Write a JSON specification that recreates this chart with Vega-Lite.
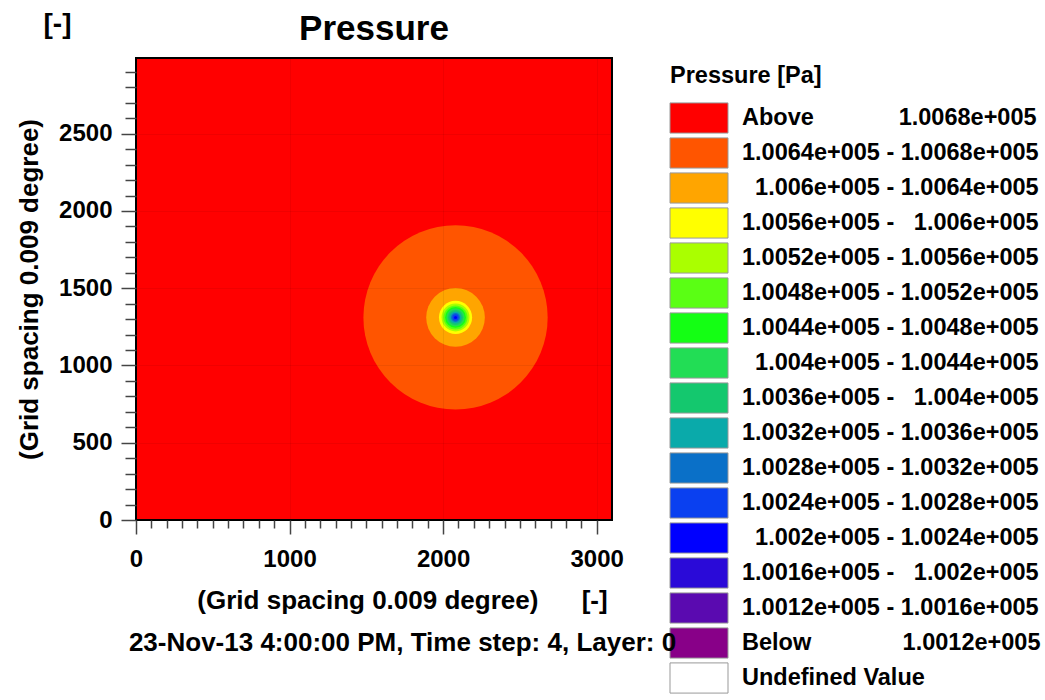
{
  "$schema": "https://vega.github.io/schema/vega-lite/v6.json",
  "autosize": {"type": "none"},
  "padding": {"left": 136, "top": 58, "right": 433, "bottom": 180},
  "width": 476,
  "height": 462,
  "background": "white",
  "title": {"text": "Pressure", "fontSize": 35, "font": "Liberation Sans", "fontWeight": "bold", "color": "black", "anchor": "middle", "offset": -37},
  "data": {"values": [
    {"cls": "1.0064e+005 - 1.0068e+005", "cx": 2081, "cy": 1311, "r": 600},
    {"cls": "1.006e+005 - 1.0064e+005", "cx": 2081, "cy": 1311, "r": 191},
    {"cls": "1.0056e+005 - 1.006e+005", "cx": 2081, "cy": 1311, "r": 108},
    {"cls": "1.0052e+005 - 1.0056e+005", "cx": 2081, "cy": 1311, "r": 91},
    {"cls": "1.0048e+005 - 1.0052e+005", "cx": 2081, "cy": 1311, "r": 78},
    {"cls": "1.0044e+005 - 1.0048e+005", "cx": 2081, "cy": 1311, "r": 68},
    {"cls": "1.004e+005 - 1.0044e+005", "cx": 2081, "cy": 1311, "r": 59},
    {"cls": "1.0036e+005 - 1.004e+005", "cx": 2081, "cy": 1311, "r": 49},
    {"cls": "1.0032e+005 - 1.0036e+005", "cx": 2081, "cy": 1311, "r": 39},
    {"cls": "1.0028e+005 - 1.0032e+005", "cx": 2081, "cy": 1311, "r": 29},
    {"cls": "1.0024e+005 - 1.0028e+005", "cx": 2081, "cy": 1311, "r": 20},
    {"cls": "1.002e+005 - 1.0024e+005", "cx": 2081, "cy": 1311, "r": 10}
  ]},
  "layer": [
    {
      "mark": {"type": "point", "shape": "circle", "filled": true, "opacity": 1, "strokeWidth": 0},
      "encoding": {
        "x": {"field": "cx", "type": "quantitative",
          "scale": {"domain": [0, 3100], "nice": false, "zero": false},
          "axis": {
            "orient": "bottom",
            "values": [0,100,200,300,400,500,600,700,800,900,1000,1100,1200,1300,1400,1500,1600,1700,1800,1900,2000,2100,2200,2300,2400,2500,2600,2700,2800,2900,3000],
            "format": "d",
            "labelExpr": "datum.value % 1000 == 0 ? datum.label : ''",
            "labelOverlap": false, "labelFlush": false,
            "labelFontSize": 24, "labelFont": "Liberation Sans", "labelFontWeight": "bold", "labelColor": "black",
            "labelPadding": 13,
            "tickSize": {"condition": {"test": "datum.value % 1000 != 0", "value": 8}, "value": 14},
            "tickColor": "#444", "tickWidth": 1.5,
            "domain": false,
            "grid": true, "gridColor": "#000000",
            "gridOpacity": {"condition": {"test": "datum.value % 1000 == 0", "value": 0.06}, "value": 0},
            "zindex": 1,
            "title": ["(Grid spacing 0.009 degree)\u00a0\u00a0\u00a0\u00a0\u00a0\u00a0[-]", "23-Nov-13 4:00:00 PM, Time step: 4, Layer: 0"],
            "titleX": 266,
            "titleFontSize": 26, "titleFont": "Liberation Sans", "titleFontWeight": "bold", "titleColor": "black",
            "titleLineHeight": 42, "titlePadding": 16
          }
        },
        "y": {"field": "cy", "type": "quantitative",
          "scale": {"domain": [0, 2990], "nice": false, "zero": false},
          "axis": {
            "values": [0,100,200,300,400,500,600,700,800,900,1000,1100,1200,1300,1400,1500,1600,1700,1800,1900,2000,2100,2200,2300,2400,2500,2600,2700,2800,2900],
            "format": "d",
            "labelExpr": "datum.value % 500 == 0 ? datum.label : ''",
            "labelOverlap": false, "labelFlush": false,
            "labelFontSize": 24, "labelFont": "Liberation Sans", "labelFontWeight": "bold", "labelColor": "black",
            "labelPadding": 9,
            "tickSize": {"condition": {"test": "datum.value % 500 != 0", "value": 11}, "value": 15},
            "tickColor": "#444", "tickWidth": 1.5,
            "domain": false,
            "grid": true, "gridColor": "#000000",
            "gridOpacity": {"condition": {"test": "datum.value % 500 == 0", "value": 0.06}, "value": 0},
            "zindex": 1,
            "title": "(Grid spacing 0.009 degree)",
            "titleFontSize": 26, "titleFont": "Liberation Sans", "titleFontWeight": "bold", "titleColor": "black",
            "titlePadding": 16
          }
        },
        "size": {"field": "r", "type": "quantitative",
          "scale": {"type": "pow", "exponent": 2, "domain": [0, 1000], "range": [0, 94310]},
          "legend": null},
        "color": {"field": "cls", "type": "nominal",
          "scale": {
            "domain": ["Above 1.0068e+005", "1.0064e+005 - 1.0068e+005", "1.006e+005 - 1.0064e+005", "1.0056e+005 - 1.006e+005", "1.0052e+005 - 1.0056e+005", "1.0048e+005 - 1.0052e+005", "1.0044e+005 - 1.0048e+005", "1.004e+005 - 1.0044e+005", "1.0036e+005 - 1.004e+005", "1.0032e+005 - 1.0036e+005", "1.0028e+005 - 1.0032e+005", "1.0024e+005 - 1.0028e+005", "1.002e+005 - 1.0024e+005", "1.0016e+005 - 1.002e+005", "1.0012e+005 - 1.0016e+005", "Below 1.0012e+005", "Undefined Value"],
            "range": ["#FF0000", "#FF5500", "#FFA500", "#FFFF00", "#AAFF00", "#5AFF14", "#14FF14", "#22DD55", "#14C86E", "#0AAAAA", "#0A70C8", "#0A40F0", "#0000FF", "#2A0AD8", "#5A0AB0", "#880088", "#FFFFFF"]
          },
          "legend": {
            "title": "Pressure [Pa]",
            "orient": "right", "offset": 52, "padding": 6,
            "titleFontSize": 23.5, "titleFont": "Liberation Sans", "titleFontWeight": "bold", "titleColor": "black", "titlePadding": 15.5, "titleLimit": 400,
            "labelFontSize": 23.5, "labelFont": "Liberation Sans", "labelFontWeight": "bold", "labelColor": "black",
            "labelOffset": 28, "labelLimit": 500,
            "symbolType": "M-2,-1.04H2V1.04H-2Z", "symbolSize": 841, "symbolOffset": 14,
            "symbolStrokeColor": "#999999", "symbolStrokeWidth": 1, "symbolOpacity": 1,
            "rowPadding": -1,
            "labelExpr": "indexof(datum.label, ' - ') > 0 ? ((length(split(datum.label, ' - ')[0]) < 11 ? '\u200b\u00a0\u00a0' : '') + split(datum.label, ' - ')[0] + ' - ' + (length(split(datum.label, ' - ')[1]) < 11 ? '\u00a0\u00a0' : '') + split(datum.label, ' - ')[1]) : (indexof(datum.label, 'Above') == 0 ? replace(datum.label, ' ', '\u00a0\u00a0\u00a0\u00a0\u00a0\u00a0\u00a0\u00a0\u00a0\u00a0\u00a0\u00a0\u00a0') : (indexof(datum.label, 'Below') == 0 ? replace(datum.label, ' ', '\u00a0\u00a0\u00a0\u00a0\u00a0\u00a0\u00a0\u00a0\u00a0\u00a0\u00a0\u00a0\u00a0\u00a0') : datum.label))"
          }
        },
        "order": {"field": "r", "type": "quantitative", "sort": "descending"}
      }
    },
    {
      "mark": {"type": "point", "opacity": 0},
      "encoding": {
        "x": {"field": "cx", "type": "quantitative",
          "axis": {"orient": "top", "labels": false, "ticks": false, "domain": false, "grid": false,
            "title": "[-]", "titleX": -79, "titleY": -34, "titleAlign": "center", "titleBaseline": "middle", "titleAngle": 0,
            "titleFontSize": 28, "titleFont": "Liberation Sans", "titleFontWeight": "bold", "titleColor": "black"}
        }
      }
    }
  ],
  "resolve": {"axis": {"x": "independent"}},
  "config": {"view": {"fill": "#FF0000", "stroke": "#000000", "strokeWidth": 2}}
}
